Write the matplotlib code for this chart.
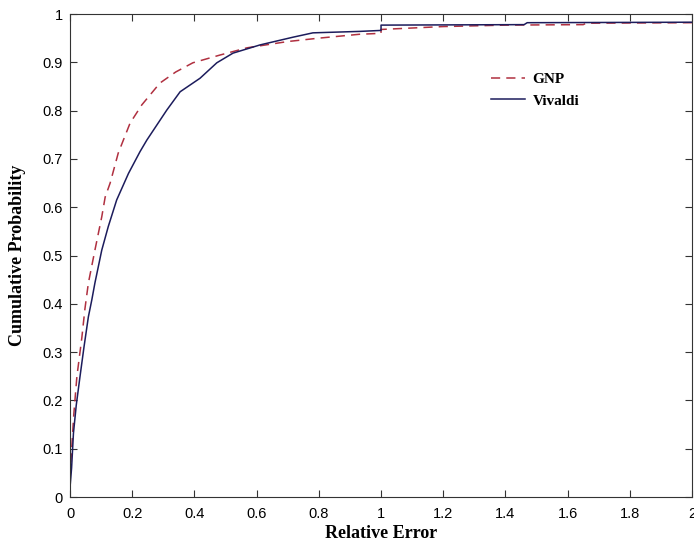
import matplotlib.pyplot as plt

# data
gnp_x = [0, 0.005, 0.012, 0.022, 0.038, 0.048, 0.059, 0.080, 0.102, 0.113, 0.129,
         0.155, 0.193, 0.231, 0.289, 0.34, 0.395, 0.482, 0.569, 0.7, 0.8, 0.93,
         1.0, 1.0, 1.2, 1.4, 1.65, 1.66, 2.0]
gnp_y = [0.04, 0.097, 0.17, 0.249, 0.33, 0.39, 0.443, 0.511, 0.58, 0.621, 0.65,
         0.712, 0.774, 0.812, 0.857, 0.88, 0.899, 0.915, 0.93, 0.943, 0.950, 0.958,
         0.96, 0.968, 0.974, 0.977, 0.978, 0.981, 0.982]

viv_x = [0, 0.005, 0.011, 0.02, 0.032, 0.045, 0.059, 0.07, 0.080, 0.102, 0.123,
         0.150, 0.188, 0.225, 0.247, 0.311, 0.354, 0.418, 0.472, 0.524, 0.611,
         0.717, 0.781, 0.932, 1.0, 1.0, 1.46, 1.47, 2.0]
viv_y = [0.02, 0.06, 0.132, 0.19, 0.249, 0.311, 0.373, 0.408, 0.443, 0.511, 0.560,
         0.615, 0.670, 0.715, 0.739, 0.801, 0.839, 0.867, 0.899, 0.919, 0.936,
         0.952, 0.961, 0.964, 0.966, 0.977, 0.978, 0.982, 0.983]

x_ticks = [0, 0.2, 0.4, 0.6, 0.8, 1, 1.2, 1.4, 1.6, 1.8, 2]
x_labels = ['0', '0.2', '0.4', '0.6', '0.8', '1', '1.2', '1.4', '1.6', '1.8', '2']
y_ticks = [0, 0.1, 0.2, 0.3, 0.4, 0.5, 0.6, 0.7, 0.8, 0.9, 1]
y_labels = ['0', '0.1', '0.2', '0.3', '0.4', '0.5', '0.6', '0.7', '0.8', '0.9', '1']

fig = plt.figure(figsize=(6.94, 5.47), dpi=100)
ax = fig.add_axes([0.1009, 0.0914, 0.8963, 0.883])

ax.plot(gnp_x, gnp_y, '--', color='#b03040', linewidth=1.1, dashes=(6, 4), label='GNP')
ax.plot(viv_x, viv_y, '-', color='#1c1c5c', linewidth=1.1, label='Vivaldi')

ax.set_xlim(0, 2)
ax.set_ylim(0, 1)
ax.set_xticks(x_ticks)
ax.set_xticklabels(x_labels, family='Liberation Sans', fontsize=10.5)
ax.set_yticks(y_ticks)
ax.set_yticklabels(y_labels, family='Liberation Sans', fontsize=10.5)
ax.tick_params(direction='in', top=True, right=True, length=5, color='#333333')
ax.tick_params(axis='x', pad=7)
ax.tick_params(axis='y', pad=5)
for s in ax.spines.values():
    s.set_color('#333333')

ax.set_xlabel('Relative Error', family='Liberation Serif', fontweight='bold',
              fontsize=13, labelpad=3)
ax.set_ylabel('Cumulative Probability', family='Liberation Serif', fontweight='bold',
              fontsize=13, labelpad=12)

ax.legend(loc='upper left', bbox_to_anchor=(0.655, 0.907), frameon=False,
          prop={'family': 'Liberation Serif', 'weight': 'bold', 'size': 11},
          handlelength=2.2, handletextpad=0.5, labelspacing=0.5)

plt.savefig('out.png', dpi=100)
plt.close()
